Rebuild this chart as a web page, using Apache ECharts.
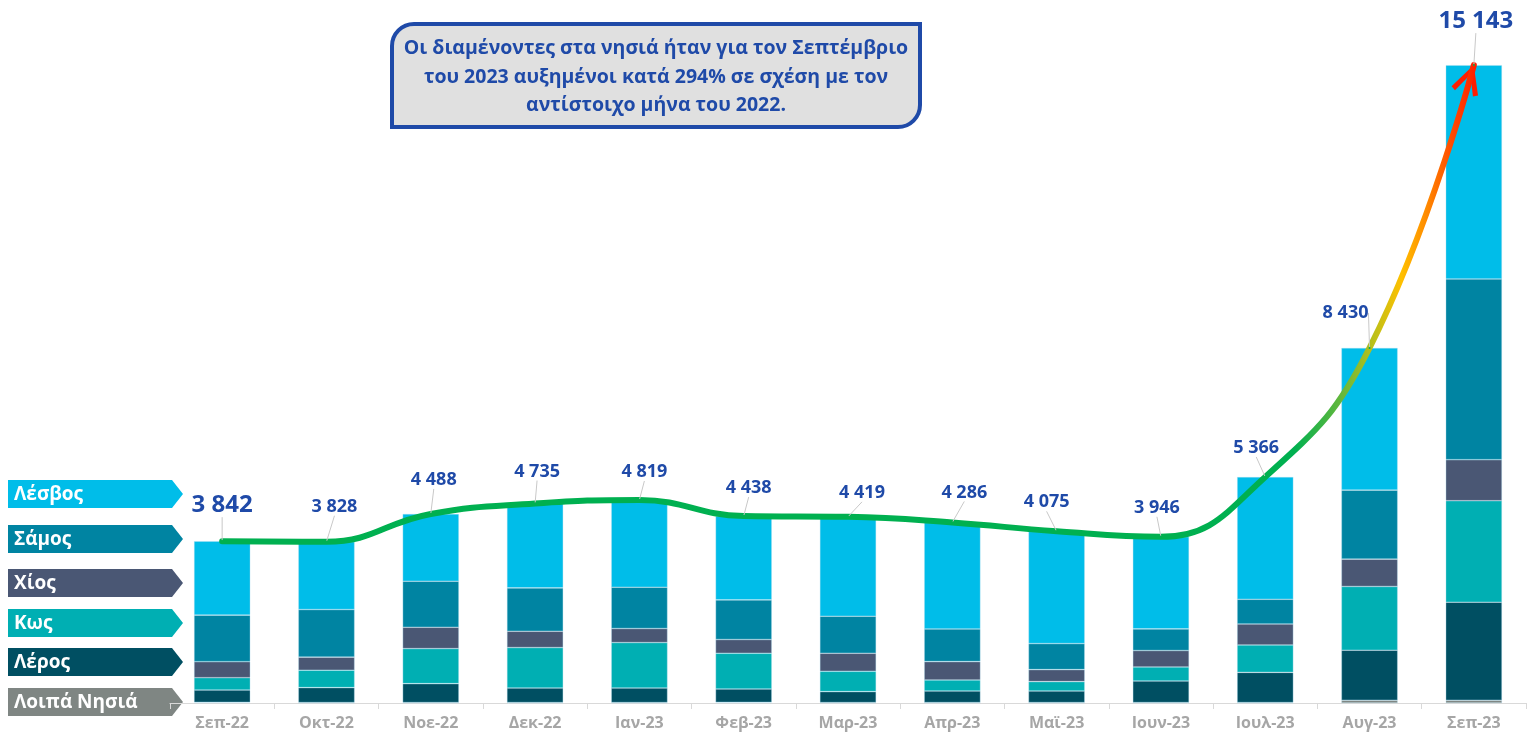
<!DOCTYPE html>
<html lang="el">
<head>
<meta charset="UTF-8">
<title>Διαμένοντες στα νησιά</title>
<script src="https://cdn.jsdelivr.net/npm/echarts@6/dist/echarts.min.js"></script>
<style>
  html, body { margin: 0; padding: 0; background: #fff; }
  #chart { width: 1528px; height: 742px; }
</style>
</head>
<body>
<div id="chart"></div>
<script>
// months on the x axis
var months = ['Σεπ-22', 'Οκτ-22', 'Νοε-22', 'Δεκ-22', 'Ιαν-23', 'Φεβ-23', 'Μαρ-23',
              'Απρ-23', 'Μαϊ-23', 'Ιουν-23', 'Ιουλ-23', 'Αυγ-23', 'Σεπ-23'];

// island segments, bottom to top
var loipa  = [15, 10, 10, 10, 10, 15, 10, 10, 10, 10, 10, 65, 65];
var leros  = [292, 356, 450, 346, 346, 318, 261, 275, 275, 513, 717, 1188, 2328];
var kos    = [294, 413, 832, 960, 1079, 848, 482, 261, 223, 333, 651, 1513, 2409];
var chios  = [380, 309, 506, 387, 333, 326, 428, 437, 285, 390, 499, 649, 974];
var samos  = [1106, 1131, 1093, 1029, 981, 941, 879, 775, 618, 513, 585, 1639, 4291];
var lesvos = [1755, 1609, 1597, 2003, 2070, 1990, 2359, 2528, 2664, 2187, 2904, 3376, 5076];

// totals shown above the bars
var totals = [3842, 3828, 4488, 4735, 4819, 4438, 4419, 4286, 4075, 3946, 5366, 8430, 15143];

var islandNames = ['Λοιπά Νησιά', 'Λέρος', 'Κως', 'Χίος', 'Σάμος', 'Λέσβος'];
var islandColors = ['#7f8683', '#004f62', '#00afb3', '#4a5774', '#0084a2', '#00bde9'];
var islandData = [loipa, leros, kos, chios, samos, lesvos];

// where each total label sits relative to its point
var labelShift = [[0, -18], [8, -20], [3, -19], [2, -17], [5, -13], [5, -13], [14, -9],
                  [12, -15], [-10, -14], [-4, -14], [-9, -14], [-24, -20], [2, -26]];

var FONT = '"Open Sans", "Noto Sans", sans-serif';
var BLUE = '#1f4aa8';

function fmt(v) {
  return String(v).replace(/\B(?=(\d{3})+(?!\d))/g, ' ');
}

var chart = echarts.init(document.getElementById('chart'));

var series = islandData.map(function (arr, i) {
  return {
    name: islandNames[i],
    type: 'bar',
    stack: 'total',
    barWidth: '54%',
    itemStyle: { color: islandColors[i], borderColor: 'rgba(180,225,240,0.6)', borderWidth: 0.6 },
    emphasis: { disabled: true },
    data: arr
  };
});

series.push({
  name: 'Σύνολο',
  type: 'line',
  smooth: 0.45,
  z: 10,
  symbol: 'circle',
  symbolSize: 2,
  showSymbol: true,
  itemStyle: { color: '#00b050' },
  lineStyle: {
    width: 6,
    cap: 'round',
    color: new echarts.graphic.LinearGradient(0, 0, 1, 0, [
      { offset: 0, color: '#00b050' },
      { offset: 0.855, color: '#00b050' },
      { offset: 0.895, color: '#6cb83a' },
      { offset: 0.918, color: '#bcc018' },
      { offset: 0.94, color: '#ffc000' },
      { offset: 0.96, color: '#ff8a00' },
      { offset: 0.98, color: '#ff4a00' },
      { offset: 1, color: '#ff1e00' }
    ])
  },
  label: {
    show: true,
    position: 'top',
    distance: 5,
    color: BLUE,
    fontFamily: FONT,
    fontWeight: 'bold',
    fontSize: 18,
    formatter: function (p) { return fmt(p.value); }
  },
  labelLine: { show: true, lineStyle: { color: '#c8c8c8', width: 1 } },
  labelLayout: function (p) {
    var s = labelShift[p.dataIndex];
    return { dx: s[0], dy: s[1] };
  },
  data: totals.map(function (v, i) {
    var big = (i === 0 || i === totals.length - 1);
    return { value: v, label: { fontSize: big ? 24 : 18 } };
  }),
  markPoint: {
    silent: true,
    symbol: 'path://M15,0 L29,27 L24.5,29.5 L15,10 L5.5,29.5 L1,27 Z',
    symbolSize: [28, 30],
    symbolRotate: -19,
    symbolOffset: [-5, 14],
    itemStyle: { color: '#ff1e00' },
    label: { show: false },
    data: [{ coord: [months.length - 1, totals[totals.length - 1]] }]
  }
});

// arrow-shaped tags on the left
var tagTops = [688, 648, 609, 569, 525, 480];
var graphics = [];
islandNames.forEach(function (name, i) {
  var t = tagTops[i], h = 28;
  graphics.push({
    type: 'polygon',
    shape: { points: [[8, t], [172, t], [183, t + h / 2], [172, t + h], [8, t + h]] },
    style: { fill: islandColors[i] }
  });
  graphics.push({
    type: 'text',
    x: 14, y: t + h / 2 + 1,
    style: {
      text: name, fill: '#fff', font: 'bold 19px ' + FONT,
      textAlign: 'left', textVerticalAlign: 'middle'
    }
  });
});

// note box
graphics.push({
  type: 'rect',
  shape: { x: 392, y: 24, width: 528, height: 103, r: [22, 0, 22, 0] },
  style: { fill: '#e0e0e0', stroke: '#1f4aa8', lineWidth: 4 }
});
graphics.push({
  type: 'text',
  x: 656, y: 77,
  style: {
    text: 'Οι διαμένοντες στα νησιά ήταν για τον Σεπτέμβριο\nτου 2023 αυξημένοι κατά 294% σε σχέση με τον\nαντίστοιχο μήνα του 2022.',
    fill: '#1f4aa8', font: 'bold 19.5px ' + FONT, lineHeight: 28.5,
    textAlign: 'center', textVerticalAlign: 'middle'
  }
});

var option = {
  animation: false,
  grid: { left: 170, right: 2, top: 29, bottom: 39, containLabel: false },
  xAxis: {
    type: 'category',
    data: months,
    axisLine: { lineStyle: { color: '#d9d9d9', width: 1 } },
    axisTick: { show: true, length: 6, lineStyle: { color: '#d9d9d9' } },
    axisLabel: {
      color: '#a6a6a6', fontFamily: FONT, fontWeight: 'bold', fontSize: 16, margin: 12
    }
  },
  yAxis: {
    type: 'value', min: 0, max: 16000, show: false,
    splitLine: { show: false }
  },
  series: series,
  graphic: graphics
};

chart.setOption(option);
</script>
</body>
</html>
